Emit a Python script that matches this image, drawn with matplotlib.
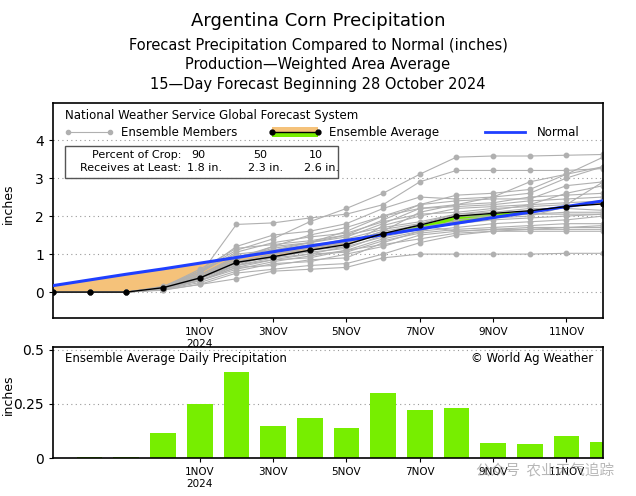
import numpy as np
import matplotlib.pyplot as plt
from matplotlib.patches import Rectangle

plt.rcParams['font.family'] = ['DejaVu Sans', 'Noto Sans CJK SC']

# days from 28 Oct 2024
days = list(range(16))
tick_days = [4, 6, 8, 10, 12, 14]
tick_labels = ['1NOV\n2024', '3NOV', '5NOV', '7NOV', '9NOV', '11NOV']

# ensemble average cumulative precip (inches)
ens_avg = [0, 0, 0, 0.115, 0.37, 0.78, 0.93, 1.10, 1.25, 1.54, 1.76, 2.0, 2.07, 2.14, 2.25, 2.32]
# normal cumulative precip
normal = [0.17, 0.32, 0.47, 0.61, 0.76, 0.91, 1.06, 1.21, 1.36, 1.51, 1.66, 1.81, 1.96, 2.10, 2.25, 2.40]

# ensemble members (cumulative)
members = [
    [0, 0, 0, 0.08, 0.45, 1.78, 1.82, 1.95, 2.05, 2.3, 2.9, 3.2, 3.2, 3.2, 3.2, 3.25],
    [0, 0, 0, 0.15, 0.55, 1.1, 1.4, 1.85, 2.2, 2.6, 3.1, 3.55, 3.58, 3.58, 3.6, 3.62],
    [0, 0, 0, 0.1, 0.4, 0.9, 1.2, 1.5, 1.7, 2.0, 2.3, 2.55, 2.6, 2.7, 3.1, 3.55],
    [0, 0, 0, 0.12, 0.5, 1.2, 1.5, 1.6, 1.8, 2.2, 2.5, 2.45, 2.5, 2.6, 3.0, 3.3],
    [0, 0, 0, 0.1, 0.35, 0.85, 1.2, 1.3, 1.5, 1.9, 2.3, 2.4, 2.45, 2.45, 2.8, 2.9],
    [0, 0, 0, 0.09, 0.3, 0.7, 1.0, 1.15, 1.3, 1.6, 2.1, 2.3, 2.35, 2.5, 2.55, 2.6],
    [0, 0, 0, 0.12, 0.4, 0.8, 0.9, 1.1, 1.2, 1.75, 2.0, 2.2, 2.25, 2.3, 2.35, 2.4],
    [0, 0, 0, 0.1, 0.35, 0.75, 0.95, 1.05, 1.15, 1.5, 1.8, 2.05, 2.1, 2.2, 2.2, 2.15],
    [0, 0, 0, 0.08, 0.3, 0.6, 0.8, 0.95, 1.1, 1.4, 1.6, 1.9, 2.0, 2.05, 2.1, 2.1],
    [0, 0, 0, 0.11, 0.45, 0.95, 1.05, 1.2, 1.4, 1.65, 1.8, 2.0, 2.0, 2.05, 2.05, 2.05],
    [0, 0, 0, 0.1, 0.3, 0.65, 0.7, 0.85, 0.9, 1.3, 1.6, 1.7, 1.8, 1.85, 1.9, 2.0],
    [0, 0, 0, 0.07, 0.25, 0.55, 0.75, 0.8, 1.0, 1.2, 1.5, 1.6, 1.65, 1.7, 1.7, 1.75],
    [0, 0, 0, 0.06, 0.2, 0.5, 0.6, 0.7, 0.75, 1.0, 1.3, 1.5, 1.6, 1.6, 1.6, 1.6],
    [0, 0, 0, 0.1, 0.4, 0.7, 0.85, 0.9, 1.1, 1.25, 1.4, 1.55, 1.6, 1.65, 1.65, 1.65],
    [0, 0, 0, 0.05, 0.2, 0.35, 0.55, 0.6, 0.65, 0.9, 1.0, 1.0, 1.0, 1.0, 1.02, 1.02],
    [0, 0, 0, 0.12, 0.5, 1.05, 1.3, 1.45, 1.55, 1.85, 2.05, 2.1, 2.2, 2.25, 2.3, 2.9],
    [0, 0, 0, 0.1, 0.55, 1.0, 1.1, 1.25, 1.35, 1.55, 1.7, 1.85, 1.95, 2.0, 2.25, 2.4],
    [0, 0, 0, 0.08, 0.35, 0.7, 0.9, 1.0, 1.2, 1.45, 1.65, 1.8, 1.9, 1.95, 2.0, 2.05],
    [0, 0, 0, 0.13, 0.6, 1.15, 1.25, 1.35, 1.5, 1.7, 1.85, 2.05, 2.15, 2.3, 2.6, 2.8],
    [0, 0, 0, 0.1, 0.4, 0.8, 1.0, 1.1, 1.3, 1.6, 1.75, 1.6, 1.65, 1.65, 1.7, 1.7],
    [0, 0, 0, 0.09, 0.3, 0.65, 0.85, 1.0, 1.05, 1.35, 1.55, 1.65, 1.7, 1.75, 1.8, 1.8],
    [0, 0, 0, 0.11, 0.45, 0.9, 1.15, 1.3, 1.45, 1.8, 2.2, 2.25, 2.3, 2.4, 2.45, 2.5],
    [0, 0, 0, 0.1, 0.4, 0.85, 1.1, 1.3, 1.6, 2.0, 2.2, 2.3, 2.5, 2.9, 3.1, 3.3],
]

# daily ensemble average precip (inches)
daily = [0, 0.003, 0.003, 0.115, 0.25, 0.40, 0.15, 0.185, 0.14, 0.30, 0.22, 0.23, 0.07, 0.065, 0.10, 0.075]

orange = '#f5c27a'
green = '#77ee00'
gray = '#b0b0b0'
blue = '#1f3fff'

fig = plt.figure(figsize=(6.36, 4.96), dpi=100)

# titles
fig.text(0.5, 0.958, 'Argentina Corn Precipitation', ha='center', va='center', fontsize=13)
fig.text(0.5, 0.909, 'Forecast Precipitation Compared to Normal (inches)', ha='center', va='center', fontsize=10.5)
fig.text(0.5, 0.869, 'Production\u2014Weighted Area Average', ha='center', va='center', fontsize=10.5)
fig.text(0.5, 0.829, '15\u2014Day Forecast Beginning 28 October 2024', ha='center', va='center', fontsize=10.5)

# ---- top panel
ax = fig.add_axes([0.0833, 0.359, 0.865, 0.433])
x = np.array(days)
avg = np.array(ens_avg)
nrm = np.array(normal)
ax.fill_between(x, avg, nrm, where=avg <= nrm, interpolate=True, color=orange, lw=0, zorder=1)
ax.fill_between(x, avg, nrm, where=avg >= nrm, interpolate=True, color=green, lw=0, zorder=1)
for m in members:
    ax.plot(x, m, color=gray, lw=0.8, marker='o', ms=3.2, mec=gray, mfc=gray, zorder=2)
ax.plot(x, nrm, color=blue, lw=2.2, zorder=3)
ax.plot(x, avg, color='black', lw=1.0, marker='o', ms=3.5, zorder=4)

for yv in [0, 1, 2, 3, 4]:
    ax.axhline(yv, color='#999999', lw=0.8, ls=(0, (1, 3)), zorder=0)

ax.set_xlim(0, 15)
ax.set_ylim(-0.68, 4.97)
ax.set_yticks([0, 1, 2, 3, 4])
ax.set_xticks(tick_days)
ax.set_xticklabels(tick_labels, fontsize=7.5)
ax.tick_params(axis='both', direction='out', length=3, width=0.8)
ax.tick_params(axis='y', labelsize=10)
ax.set_ylabel('inches', fontsize=9)
ax.yaxis.set_label_coords(-0.069, 0.53)
for s in ax.spines.values():
    s.set_linewidth(1.2)

# legend drawn in axes coords
t = ax.transAxes
ax.text(0.022, 0.944, 'National Weather Service Global Forecast System', transform=t, fontsize=8.5, va='center')
ax.plot([0.027, 0.104], [0.865, 0.865], transform=t, color=gray, lw=0.8, marker='o', ms=3, clip_on=False)
ax.text(0.124, 0.865, 'Ensemble Members', transform=t, fontsize=8.5, va='center')
ax.add_patch(Rectangle((0.398, 0.865), 0.084, 0.022, transform=t, color=orange, lw=0, zorder=5))
ax.add_patch(Rectangle((0.398, 0.843), 0.084, 0.022, transform=t, color=green, lw=0, zorder=5))
ax.plot([0.398, 0.482], [0.865, 0.865], transform=t, color='black', lw=1, marker='o', ms=3.5, zorder=6)
ax.text(0.502, 0.865, 'Ensemble Average', transform=t, fontsize=8.5, va='center')
ax.plot([0.785, 0.858], [0.865, 0.865], transform=t, color=blue, lw=2)
ax.text(0.88, 0.865, 'Normal', transform=t, fontsize=8.5, va='center')

ax.add_patch(Rectangle((0.022, 0.651), 0.496, 0.149, transform=t, fill=False, ec='#555555', lw=1, zorder=5))
ax.text(0.233, 0.758, 'Percent of Crop:', transform=t, fontsize=8, va='center', ha='right')
ax.text(0.233, 0.698, 'Receives at Least:', transform=t, fontsize=8, va='center', ha='right')
pct_x = [0.265, 0.376, 0.478]
for px, p, v in zip(pct_x, ['90', '50', '10'], ['1.8 in.', '2.3 in.', '2.6 in.']):
    ax.text(px, 0.758, p, transform=t, fontsize=8, va='center', ha='center')
    ax.text(px + 0.01, 0.698, v, transform=t, fontsize=8, va='center', ha='center')

# ---- bottom panel
bx = fig.add_axes([0.0833, 0.0766, 0.865, 0.224])
bx.bar(x, daily, width=0.7, color=green, zorder=2)
bx.axhline(0.25, color='#999999', lw=0.8, ls=(0, (1, 3)), zorder=0)
bx.axhline(0.5, color='#999999', lw=0.8, ls=(0, (1, 3)), zorder=0)
bx.set_xlim(0, 15)
bx.set_ylim(0, 0.514)
bx.set_yticks([0, 0.25, 0.5])
bx.set_yticklabels(['0', '0.25', '0.5'])
bx.set_xticks(tick_days)
bx.set_xticklabels(tick_labels, fontsize=7.5)
bx.tick_params(axis='both', direction='out', length=3, width=0.8)
bx.tick_params(axis='y', labelsize=10)
bx.set_ylabel('inches', fontsize=9)
bx.yaxis.set_label_coords(-0.069, 0.57)
for s in bx.spines.values():
    s.set_linewidth(1.2)
bx.text(0.022, 0.9, 'Ensemble Average Daily Precipitation', transform=bx.transAxes, fontsize=8.5, va='center')
bx.text(0.982, 0.9, '\u00a9 World Ag Weather', transform=bx.transAxes, fontsize=8.5, va='center', ha='right')

# watermark (overlaps the tick labels, as in the source image)
fig.text(0.748, 0.05, '公众号  农业天气追踪', fontsize=10.5, color='#888888', alpha=0.6,
         family=['Noto Sans CJK SC', 'DejaVu Sans'], va='center')

fig.savefig('out.png', dpi=100)
